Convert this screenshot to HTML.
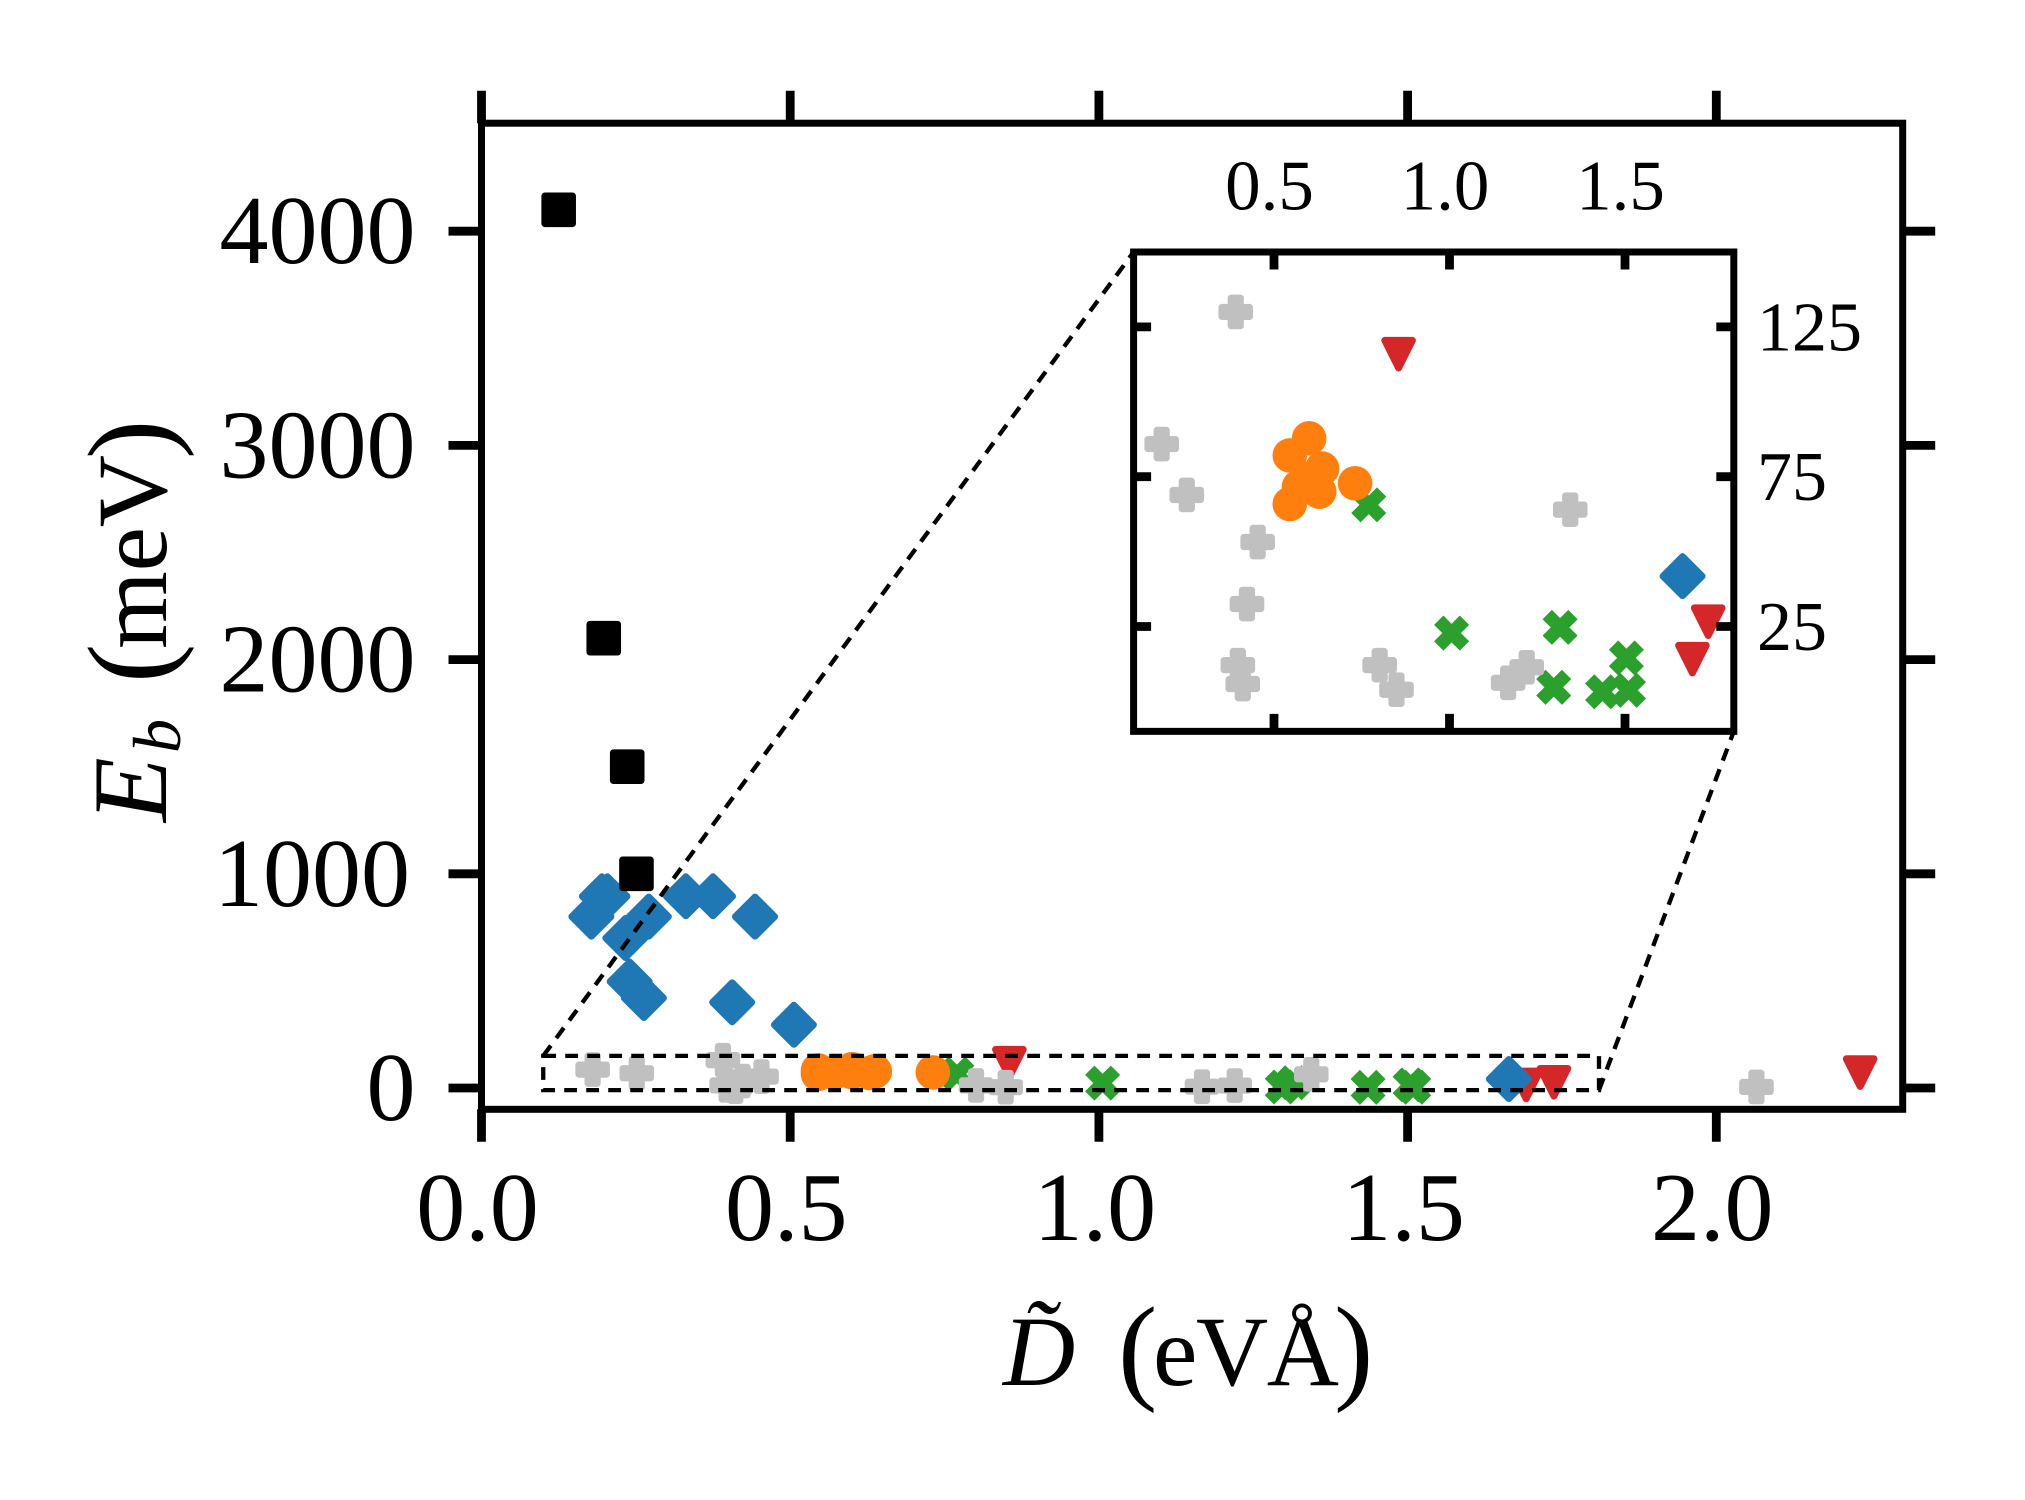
<!DOCTYPE html>
<html lang="en">
<head>
<meta charset="utf-8">
<title>Eb vs D scatter chart</title>
<style>
html,body{margin:0;padding:0;background:#fff;}
svg{display:block;}
text{font-family:"Liberation Serif",serif;fill:#000;}
</style>
</head>
<body>
<svg id="chart" xmlns="http://www.w3.org/2000/svg" width="2025" height="1500" viewBox="0 0 2025 1500">
  <rect x="0" y="0" width="2025" height="1500" fill="#fff"/>
  <g id="main-marks"></g>
  <g id="main-ticks"></g>
  <rect id="main-frame" fill="none" stroke="#000" stroke-width="7"/>
  <rect id="zoom-rect" fill="none" stroke="#000" stroke-width="4.3" stroke-dasharray="12.8 9.2"/>
  <line id="conn-a" stroke="#000" stroke-width="4.3" stroke-dasharray="12.8 9.2"/>
  <line id="conn-b" stroke="#000" stroke-width="4.3" stroke-dasharray="12.8 9.2"/>
  <rect id="inset-bg" fill="#fff"/>
  <g id="inset-marks"></g>
  <g id="inset-ticks"></g>
  <rect id="inset-frame" fill="none" stroke="#000" stroke-width="7"/>
  <g id="labels"></g>
  <g>
    <text x="1003" y="1385" font-size="100" font-style="italic">D̃</text>
    <text x="1118" y="1388" font-size="118">(</text>
    <text x="1153" y="1385" font-size="100" textLength="186" lengthAdjust="spacing">eVÅ</text>
    <text x="1334" y="1388" font-size="118">)</text>
  </g>
  <g transform="translate(166,822) rotate(-90)">
    <text x="0" y="0" font-size="106" font-style="italic">E</text>
    <text x="69" y="14" font-size="68" font-style="italic">b</text>
    <text x="139" y="3" font-size="118">(</text>
    <text x="173" y="0" font-size="100" textLength="194" lengthAdjust="spacing">meV</text>
    <text x="363" y="3" font-size="118">)</text>
  </g>
</svg>
<script>
// Chart data
const blackX = [0.125, 0.198, 0.236, 0.251];
const blackY = [4100, 2100, 1500, 1000];
const blueX = [0.178, 0.195, 0.204, 0.233, 0.271, 0.240, 0.263, 0.331, 0.375, 0.443, 0.406, 0.506, 1.664];
const blueY = [800, 895, 895, 700, 800, 497, 420, 895, 895, 800, 400, 295, 41.8];
const orangeX = [0.600, 0.545, 0.637, 0.731, 0.629, 0.545, 0.571, 0.600];
const orangeY = [87.8, 82.1, 77.7, 72.8, 70.0, 65.9, 71.6, 74.3];
const greenX = [0.770, 1.006, 1.315, 1.297, 1.436, 1.504, 1.510];
const greenY = [65.6, 22.8, 24.7, 4.7, 3.2, 14.5, 3.7];
const redX = [0.855, 1.737, 1.692, 2.233];
const redY = [115.9, 26.6, 14.1, 72];
const grayX = [0.391, 0.180, 0.2515, 0.4535, 0.423, 0.397, 0.411, 0.801, 0.849, 1.167, 1.220, 1.344, 2.065];
const grayY = [130.0, 85.9, 68.9, 53.2, 32.5, 12.1, 5.8, 12.1, 3.9, 6.2, 11.4, 64.0, 5];

const xTickValues = [0, 0.5, 1.0, 1.5, 2.0];
const xTickLabels = ["0.0", "0.5", "1.0", "1.5", "2.0"];
const yTickValues = [0, 1000, 2000, 3000, 4000];
const yTickLabels = ["0", "1000", "2000", "3000", "4000"];
const insetXTickValues = [0.5, 1.0, 1.5];
const insetXTickLabels = ["0.5", "1.0", "1.5"];
const insetYTickValues = [25, 75, 125];
const insetYTickLabels = ["25", "75", "125"];
const insetXLimits = [0.1, 1.81];
const insetYLimits = [-10, 150];

const NS = "http://www.w3.org/2000/svg";

// Axis functions
function xMain(v) { return 481.5 + 617.4 * v; }
function yMain(v) { return 1088 - 0.2142 * v; }
function xInset(v) { return 1098.5 + 351 * v; }
function yInset(v) { return 701.4 - 2.996 * v; }

// Frames
const MAIN = { left: 481.5, right: 1902.7, top: 123.2, bottom: 1109.3 };
const INSET = { left: xInset(insetXLimits[0]), right: xInset(insetXLimits[1]), top: yInset(insetYLimits[1]), bottom: yInset(insetYLimits[0]) };

function setRect(id, l, t, r, b) {
  const el = document.getElementById(id);
  el.setAttribute("x", l);
  el.setAttribute("y", t);
  el.setAttribute("width", r - l);
  el.setAttribute("height", b - t);
}
setRect("main-frame", MAIN.left, MAIN.top, MAIN.right, MAIN.bottom);
setRect("inset-frame", INSET.left, INSET.top, INSET.right, INSET.bottom);
setRect("inset-bg", INSET.left, INSET.top, INSET.right, INSET.bottom);
setRect("zoom-rect", xMain(insetXLimits[0]), yMain(insetYLimits[1]), xMain(insetXLimits[1]), yMain(insetYLimits[0]));

function setLine(id, x1, y1, x2, y2) {
  const el = document.getElementById(id);
  el.setAttribute("x1", x1);
  el.setAttribute("y1", y1);
  el.setAttribute("x2", x2);
  el.setAttribute("y2", y2);
}
setLine("conn-a", xMain(insetXLimits[0]), yMain(insetYLimits[1]), INSET.left, INSET.top);
setLine("conn-b", xMain(insetXLimits[1]), yMain(insetYLimits[0]), INSET.right, INSET.bottom);

// Marker outlines (unit shapes scaled about the marker centre)
const shapePoints = {
  square: [[-1, -1], [1, -1], [1, 1], [-1, 1]].map(p => [p[0] * 13.8, p[1] * 13.8]),
  diamond: [[0, -1], [1, 0], [0, 1], [-1, 0]].map(p => [p[0] * 19.5, p[1] * 19.5]),
  triangle: [[-1, -1], [1, -1], [0, 1]].map(p => [p[0] * 13.8, p[1] * 13.8]),
  xmark: [[-1, -2], [0, -1], [1, -2], [2, -1], [1, 0], [2, 1], [1, 2], [0, 1], [-1, 2], [-2, 1], [-1, 0], [-2, -1]].map(p => [p[0] * 8.2, p[1] * 8.2]),
  plus: [[-1, -3], [1, -3], [1, -1], [3, -1], [3, 1], [1, 1], [1, 3], [-1, 3], [-1, 1], [-3, 1], [-3, -1], [-1, -1]].map(p => [p[0] * 4.6, p[1] * 4.6])
};

function drawMarker(parent, kind, color, cx, cy, name) {
  let el;
  if (kind === "circle") {
    el = document.createElementNS(NS, "circle");
    el.setAttribute("cx", cx);
    el.setAttribute("cy", cy);
    el.setAttribute("r", 17.3);
    el.setAttribute("fill", color);
  } else {
    el = document.createElementNS(NS, "polygon");
    el.setAttribute("points", shapePoints[kind].map(p => (cx + p[0]) + "," + (cy + p[1])).join(" "));
    el.setAttribute("fill", color);
    el.setAttribute("stroke", color);
    el.setAttribute("stroke-width", kind === "xmark" ? 1.6 : 7);
    el.setAttribute("stroke-linejoin", kind === "xmark" ? "miter" : "round");
  }
  
  
  parent.appendChild(el);
}

function drawSeries(parent, xs, ys, kind, color, name, xf, yf, xlim, ylim) {
  for (let i = 0; i < xs.length; i++) {
    if (xlim && (xs[i] < xlim[0] || xs[i] > xlim[1] || ys[i] < ylim[0] || ys[i] > ylim[1])) continue;
    drawMarker(parent, kind, color, xf(xs[i]), yf(ys[i]), name);
  }
}

function drawAll(parent, xf, yf, xlim, ylim) {
  drawSeries(parent, greenX, greenY, "xmark", "#2ca02c", "green-x-point", xf, yf, xlim, ylim);
  drawSeries(parent, redX, redY, "triangle", "#d62728", "red-triangle-point", xf, yf, xlim, ylim);
  drawSeries(parent, grayX, grayY, "plus", "#c0c0c0", "gray-plus-point", xf, yf, xlim, ylim);
  drawSeries(parent, blueX, blueY, "diamond", "#1f77b4", "blue-diamond-point", xf, yf, xlim, ylim);
  drawSeries(parent, orangeX, orangeY, "circle", "#ff7f0e", "orange-circle-point", xf, yf, xlim, ylim);
  drawSeries(parent, blackX, blackY, "square", "#000000", "black-square-point", xf, yf, xlim, ylim);
}
drawAll(document.getElementById("main-marks"), xMain, yMain, null, null);
drawAll(document.getElementById("inset-marks"), xInset, yInset, insetXLimits, insetYLimits);

function drawTick(parent, x1, y1, x2, y2, width, name) {
  const el = document.createElementNS(NS, "line");
  el.setAttribute("x1", x1);
  el.setAttribute("y1", y1);
  el.setAttribute("x2", x2);
  el.setAttribute("y2", y2);
  el.setAttribute("stroke", "#000");
  el.setAttribute("stroke-width", width);
  
  
  parent.appendChild(el);
}

function drawLabel(parent, str, x, y, size, anchor, name) {
  const el = document.createElementNS(NS, "text");
  el.setAttribute("x", x);
  el.setAttribute("y", y);
  el.setAttribute("font-size", size);
  el.setAttribute("text-anchor", anchor);
  el.textContent = str;
  
  
  parent.appendChild(el);
}

const mainTicks = document.getElementById("main-ticks");
const insetTicks = document.getElementById("inset-ticks");
const labels = document.getElementById("labels");

xTickValues.forEach((v, i) => {
  const x = xMain(v);
  drawTick(mainTicks, x, MAIN.bottom, x, MAIN.bottom + 32.5, 8.8, "x-tick-bottom");
  drawTick(mainTicks, x, MAIN.top, x, MAIN.top - 32.5, 8.8, "x-tick-top");
  drawLabel(labels, xTickLabels[i], x - 4, 1240, 98, "middle", "x-tick-label");
});
yTickValues.forEach((v, i) => {
  const y = yMain(v);
  drawTick(mainTicks, MAIN.left, y, MAIN.left - 33, y, 8.8, "y-tick-left");
  drawTick(mainTicks, MAIN.right, y, MAIN.right + 32.5, y, 8.8, "y-tick-right");
  const labelRight = yTickLabels[i].charAt(0) === "1" ? 410 : 415.5;
  drawLabel(labels, yTickLabels[i], labelRight, y + 32, 98, "end", "y-tick-label");
});
insetXTickValues.forEach((v, i) => {
  const x = xInset(v);
  drawTick(insetTicks, x, INSET.top, x, INSET.top + 17.5, 8.8, "inset-x-tick-top");
  drawTick(insetTicks, x, INSET.bottom, x, INSET.bottom - 17.5, 8.8, "inset-x-tick-bottom");
  drawLabel(labels, insetXTickLabels[i], x - 4.5, 209.5, 71, "middle", "inset-x-tick-label");
});
insetYTickValues.forEach((v, i) => {
  const y = yInset(v);
  drawTick(insetTicks, INSET.left, y, INSET.left + 17.5, y, 8.8, "inset-y-tick-left");
  drawTick(insetTicks, INSET.right, y, INSET.right - 17.5, y, 8.8, "inset-y-tick-right");
  drawLabel(labels, insetYTickLabels[i], 1757, y + 23.5, 70, "start", "inset-y-tick-label");
});
</script>
</body>
</html>
